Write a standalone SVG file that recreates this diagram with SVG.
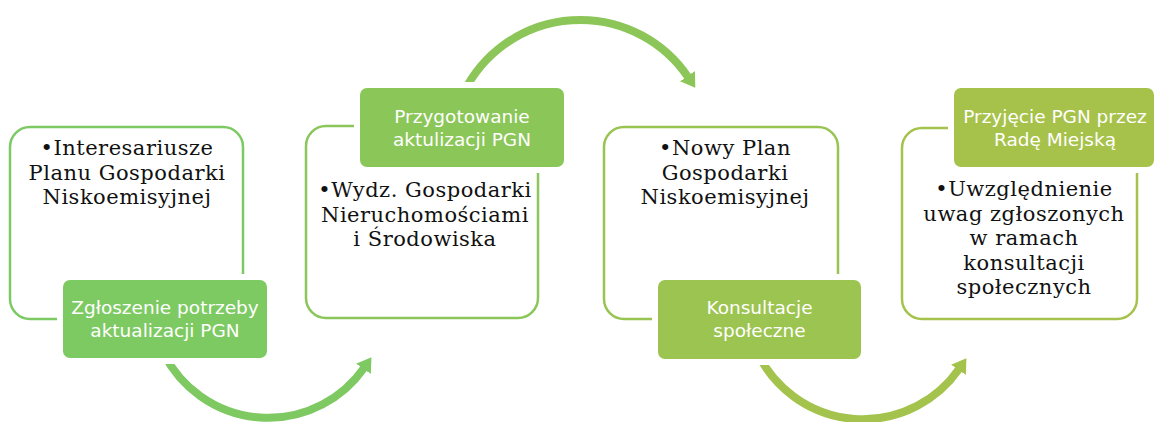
<svg xmlns="http://www.w3.org/2000/svg" width="1155" height="422" viewBox="0 0 1155 422">
<style>
.frame{fill:#fff;stroke-width:2.5}
.lbl{stroke:#fff;stroke-width:6}
.lt{font-family:"DejaVu Sans","Open Sans",sans-serif;font-size:18.5px;fill:#fff;text-anchor:middle}
.bt{font-family:"DejaVu Serif","Liberation Serif",serif;font-size:21px;letter-spacing:0.5px;fill:#111;text-anchor:middle}
.arc{fill:none;stroke-width:8}
</style>
<defs>
<marker id="m1" markerUnits="userSpaceOnUse" markerWidth="14" markerHeight="18" viewBox="0 0 14 18" refX="1" refY="9" orient="auto"><path d="M0,0 L14,9 L0,18 Z" fill="#7ec962"/></marker>
<marker id="m2" markerUnits="userSpaceOnUse" markerWidth="14" markerHeight="18" viewBox="0 0 14 18" refX="1" refY="9" orient="auto"><path d="M0,0 L14,9 L0,18 Z" fill="#8cc658"/></marker>
<marker id="m3" markerUnits="userSpaceOnUse" markerWidth="14" markerHeight="18" viewBox="0 0 14 18" refX="1" refY="9" orient="auto"><path d="M0,0 L14,9 L0,18 Z" fill="#a3c34c"/></marker>
</defs>
<g id="connectors">
<path class="arc" stroke="#7ec962" marker-end="url(#m1)" d="M164,354 A117,117 0 0 0 364,368"/>
<path class="arc" stroke="#8cc658" marker-end="url(#m2)" d="M464,92 A130,130 0 0 1 688,77"/>
<path class="arc" stroke="#a3c34c" marker-end="url(#m3)" d="M758,354 A117,117 0 0 0 959,369"/>
</g>
<g id="node1">
<rect class="frame" x="10" y="127" width="233" height="192" rx="20" stroke="#7dca64"/>
<text class="bt"><tspan x="127" y="155">•Interesariusze</tspan><tspan x="127" y="179.5">Planu Gospodarki</tspan><tspan x="127" y="204">Niskoemisyjnej</tspan></text>
<rect class="lbl" x="60" y="277" width="210" height="84" rx="10" fill="#7dca63"/>
<text class="lt"><tspan x="165" y="314">Zgłoszenie potrzeby</tspan><tspan x="165" y="337">aktualizacji PGN</tspan></text>
</g>
<g id="node2">
<rect class="frame" x="306" y="126" width="232" height="192" rx="20" stroke="#8ac65a"/>
<rect class="lbl" x="357" y="85" width="210" height="85" rx="10" fill="#8bc658"/>
<text class="lt"><tspan x="462" y="123">Przygotowanie</tspan><tspan x="462" y="146">aktulizacji PGN</tspan></text>
<text class="bt"><tspan x="425" y="197">•Wydz. Gospodarki</tspan><tspan x="425" y="221.5">Nieruchomościami</tspan><tspan x="425" y="246">i Środowiska</tspan></text>
</g>
<g id="node3">
<rect class="frame" x="604" y="127" width="234" height="192" rx="20" stroke="#98c452"/>
<text class="bt"><tspan x="725" y="155">•Nowy Plan</tspan><tspan x="725" y="179.5">Gospodarki</tspan><tspan x="725" y="204">Niskoemisyjnej</tspan></text>
<rect class="lbl" x="655" y="277" width="209" height="85" rx="10" fill="#9cc450"/>
<text class="lt"><tspan x="759.5" y="314">Konsultacje</tspan><tspan x="759.5" y="337">społeczne</tspan></text>
</g>
<g id="node4">
<rect class="frame" x="902" y="128" width="235" height="191" rx="20" stroke="#a5c34c"/>
<rect class="lbl" x="951" y="85" width="206" height="85" rx="10" fill="#a7c24a"/>
<text class="lt"><tspan x="1055" y="123">Przyjęcie PGN przez</tspan><tspan x="1055" y="146">Radę Miejską</tspan></text>
<text class="bt"><tspan x="1024" y="196">•Uwzględnienie</tspan><tspan x="1024" y="220.5">uwag zgłoszonych</tspan><tspan x="1024" y="245">w ramach</tspan><tspan x="1024" y="269.5">konsultacji</tspan><tspan x="1024" y="294">społecznych</tspan></text>
</g>
</svg>
